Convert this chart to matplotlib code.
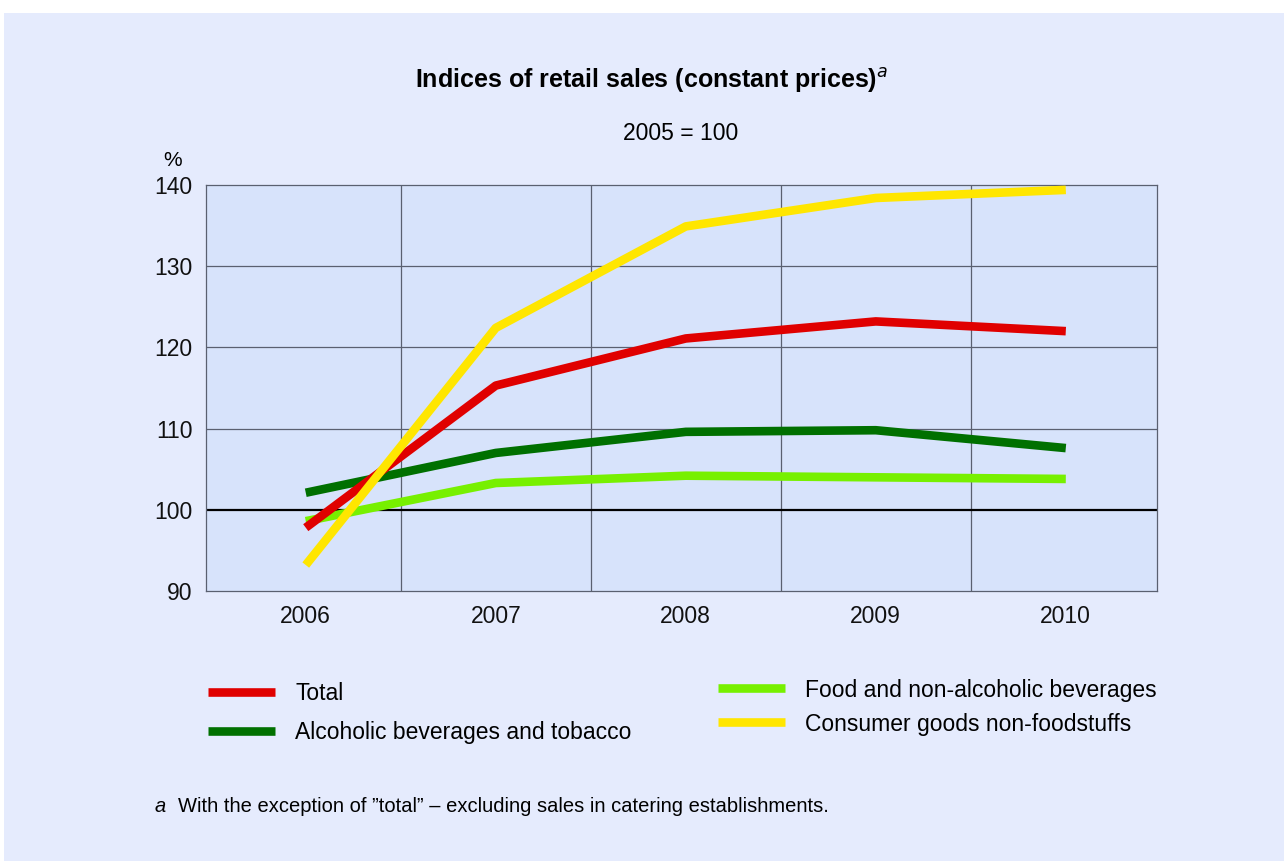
import matplotlib
matplotlib.use("Agg")
import matplotlib.pyplot as plt
from matplotlib.patches import Rectangle
from matplotlib.lines import Line2D

# data (2005 = 100)
years = ["2006", "2007", "2008", "2009", "2010"]
total = [97.8, 115.3, 121.1, 123.2, 122.0]
alcohol_tobacco = [102.1, 107.0, 109.6, 109.8, 107.6]
food = [98.6, 103.3, 104.2, 104.0, 103.8]
non_food = [93.2, 122.4, 134.9, 138.4, 139.4]

series_names = ["Total", "Alcoholic beverages and tobacco",
                "Food and non-alcoholic beverages", "Consumer goods non-foodstuffs"]
series_colors = ["#e00000", "#007000", "#77f000", "#ffe600"]

plt.rcParams["font.family"] = ["Liberation Sans", "DejaVu Sans"]

W, H = 1284, 861
fig = plt.figure(figsize=(W / 100, H / 100), dpi=100)
fig.patch.set_facecolor("white")
# light blue panel, with a thin white margin on top and left
fig.patches.append(Rectangle((4 / W, 0), 1 - 4 / W, 1 - 13 / H, transform=fig.transFigure,
                             facecolor="#e5ebfd", edgecolor="none", zorder=-10))

left, right, top, bottom = 206, 1157, 185, 591
ax = fig.add_axes([left / W, 1 - bottom / H, (right - left) / W, (bottom - top) / H])
ax.set_facecolor("#d7e3fb")

x = list(range(len(years)))
lw = 6.2
# draw in this order so yellow sits on top like the original
ax.plot(x, alcohol_tobacco, color=series_colors[1], lw=lw, solid_capstyle="butt", zorder=3)
ax.plot(x, food, color=series_colors[2], lw=lw, solid_capstyle="butt", zorder=3)
ax.plot(x, total, color=series_colors[0], lw=lw, solid_capstyle="butt", zorder=4)
ax.plot(x, non_food, color=series_colors[3], lw=lw, solid_capstyle="butt", zorder=5)

ax.axhline(100, color="black", lw=1.6, zorder=2)

ax.set_xlim(-0.525, 4.48)
ax.set_ylim(90, 140)
ax.set_yticks([90, 100, 110, 120, 130, 140])
ax.set_xticks(x)
ax.set_xticklabels(years)
ax.tick_params(length=0, labelsize=16.5, colors="#111111")
ax.tick_params(axis="x", pad=10)
ax.tick_params(axis="y", pad=9.5)

for xv in [0.5, 1.5, 2.5, 3.5]:
    ax.axvline(xv, color="#5a6070", lw=0.9, zorder=1)
for yv in [110, 120, 130]:
    ax.axhline(yv, color="#5a6070", lw=0.9, zorder=1)
for s in ax.spines.values():
    s.set_color("#5a6070")
    s.set_linewidth(0.9)

# titles
fig.text(652 / W, 1 - 81 / H, "Indices of retail sales (constant prices)$^{\\mathit{a}}$",
         ha="center", va="center", fontsize=18, fontweight="bold")
fig.text(681 / W, 1 - 133 / H, "2005 = 100", ha="center", va="center", fontsize=16.5)
fig.text(173 / W, 1 - 161 / H, "%", ha="center", va="center", fontsize=15)

# legend drawn by hand
leg_items = [
    (208, 692, 0), (208, 731, 1), (718, 688, 2), (718, 722, 3),
]
for lx, ly, i in leg_items:
    fig.add_artist(Line2D([lx / W, (lx + 67) / W], [1 - ly / H, 1 - ly / H],
                          color=series_colors[i], lw=lw, solid_capstyle="butt",
                          transform=fig.transFigure))
    fig.text((lx + 87) / W, 1 - (ly + 2) / H, series_names[i], ha="left", va="center",
             fontsize=16.5)

# footnote
fig.text(155 / W, 1 - 807 / H, "a", ha="left", va="center", fontsize=14.5, style="italic")
fig.text(178 / W, 1 - 807 / H,
         "With the exception of \u201dtotal\u201d \u2013 excluding sales in catering establishments.",
         ha="left", va="center", fontsize=14.5)

fig.savefig("out.png", dpi=100, facecolor=fig.get_facecolor())
